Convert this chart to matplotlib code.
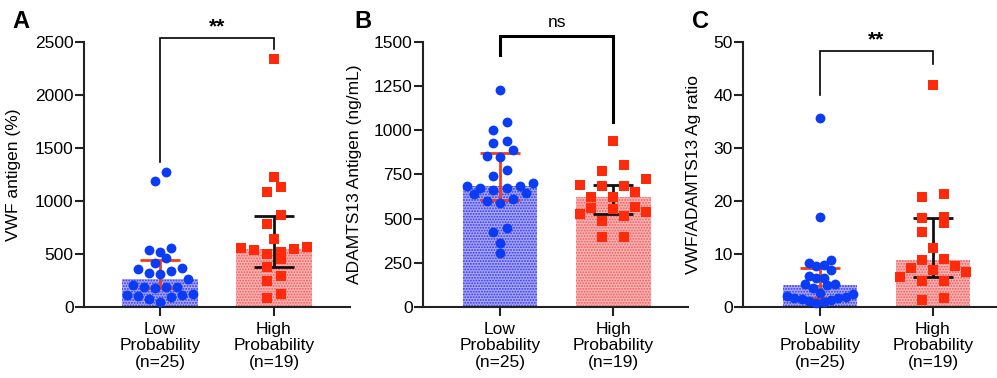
import numpy as np
import matplotlib
matplotlib.use('Agg')
import matplotlib.pyplot as plt

plt.rcParams['font.family'] = ['Liberation Sans', 'DejaVu Sans']
plt.rcParams['hatch.linewidth'] = 0.9

# ---------------- data ----------------
groups = ['Low\nProbability\n(n=25)', 'High\nProbability\n(n=19)']

vwf_low = [1269, 1190, 553, 537, 515, 465, 418, 355, 364, 339, 308, 317, 264,
           207, 176, 185, 191, 191, 97, 110, 116, 120, 105, 73, 50]
vwf_high = [2337, 1228, 1133, 1086, 867, 779, 638, 559, 499, 515, 537, 452,
            546, 568, 374, 292, 248, 120, 88]
vwf_median = [264, 546]
vwf_q1 = [182, 374]
vwf_q3 = [443, 862]

adamts_low = [1226, 1047, 1003, 937, 928, 886, 848, 852, 776, 739, 701, 673,
              686, 644, 663, 673, 687, 639, 591, 597, 612, 427, 446, 361, 304]
adamts_high = [942, 805, 767, 725, 688, 682, 686, 650, 625, 625, 559, 568,
               553, 512, 525, 540, 489, 395, 398]
adamts_median = [684, 622]
adamts_q1 = [604, 525]
adamts_q3 = [869, 688]

ratio_low = [35.6, 17.0, 8.8, 8.3, 8.0, 7.8, 6.9, 5.8, 5.4, 5.4, 4.3, 4.3, 4.1,
             3.6, 2.7, 2.4, 2.0, 1.9, 1.7, 1.6, 1.5, 1.3, 1.2, 1.0, 0.8]
ratio_high = [41.8, 21.4, 20.8, 17.0, 16.8, 15.9, 14.2, 11.1, 9.1, 8.8, 7.8,
              7.3, 6.9, 6.5, 5.6, 4.8, 4.8, 1.3, 1.6]
ratio_median = [4.2, 8.9]
ratio_q1 = [1.7, 5.6]
ratio_q3 = [7.4, 16.7]

# ---------------- style ----------------
BLUE = '#0a3cf5'
RED = '#ff2a0a'
ERR_LOW = '#f23c1a'
ERR_HIGH = '#111111'

fig = plt.figure(figsize=(9.97, 3.78), dpi=100)

panels = [
    dict(letter='A', low=vwf_low, high=vwf_high, med=vwf_median, q1=vwf_q1, q3=vwf_q3,
         ylabel='VWF antigen (%)', ylim=2500, ticks=np.arange(0, 2501, 500),
         rect=[84/997, 0.188, 266/997, 0.701], xlim=(-0.667, 1.667),
         sig='**', sig_y=2640, br=(2540, 1369, 2437), br_lw=1.2, ylab_x=-0.235,
         letter_x=12),
    dict(letter='B', low=adamts_low, high=adamts_high, med=adamts_median, q1=adamts_q1,
         q3=adamts_q3, ylabel='ADAMTS13 Antigen (ng/mL)', ylim=1500,
         ticks=np.arange(0, 1501, 250),
         rect=[423/997, 0.188, 265/997, 0.701], xlim=(-0.68, 1.66),
         sig='ns', sig_y=1610, br=(1532, 1428, 1045), br_lw=2.2, ylab_x=-0.23,
         letter_x=354),
    dict(letter='C', low=ratio_low, high=ratio_high, med=ratio_median, q1=ratio_q1,
         q3=ratio_q3, ylabel='VWF/ADAMTS13 Ag ratio', ylim=50,
         ticks=np.arange(0, 51, 10),
         rect=[743/997, 0.188, 254/997, 0.701], xlim=(-0.68, 1.566),
         sig='**', sig_y=50.3, br=(48.2, 39.9, 45.9), br_lw=1.2, ylab_x=-0.165,
         letter_x=692),
]


def swarm_x(ax, values, center, row_px=10.0, half_px=33.0, max_step=22.0):
    """Prism-like scatter: points binned into rows, each row spread symmetrically;
    spacing chosen so the widest row spans the bar width."""
    trans = ax.transData
    vals = np.asarray(values, dtype=float)
    pts = trans.transform(np.column_stack([np.full(len(vals), center), vals]))
    ys = pts[:, 1]
    cx = pts[0, 0]
    order = list(np.argsort(ys))
    rows = []
    cur = [order[0]]
    for i in order[1:]:
        if ys[i] - ys[cur[0]] < row_px:
            cur.append(i)
        else:
            rows.append(cur)
            cur = [i]
    rows.append(cur)
    maxn = max(len(r) for r in rows)
    step = min(max_step, half_px / ((maxn - 1) / 2.0)) if maxn > 1 else 0.0
    xs = np.zeros(len(vals))
    for r in rows:
        n = len(r)
        offs = np.arange(n) - (n - 1) / 2.0
        offs = sorted(offs, key=lambda o: (abs(o), o))
        for idx, o in zip(r, offs):
            xs[idx] = cx + o * step
    inv = trans.inverted()
    return inv.transform(np.column_stack([xs, ys]))[:, 0]


for p in panels:
    ax = fig.add_axes(p['rect'])
    ax.set_xlim(*p['xlim'])
    ax.set_ylim(0, p['ylim'])
    xpos = [0, 1]
    # bars (median)
    ax.bar(0, p['med'][0], width=0.66, facecolor='#a8a8f6', edgecolor='#3434ee',
           hatch='......', linewidth=0, zorder=1)
    ax.bar(1, p['med'][1], width=0.66, facecolor='#fab4b4', edgecolor='#f05a5a',
           hatch='......', linewidth=0, zorder=1)
    # error bars (IQR)
    for i, col in enumerate([ERR_LOW, ERR_HIGH]):
        ax.errorbar(xpos[i], p['med'][i],
                    yerr=[[p['med'][i] - p['q1'][i]], [p['q3'][i] - p['med'][i]]],
                    fmt='none', ecolor=col, elinewidth=2.0, capsize=14.5,
                    capthick=2.0, zorder=2)
    # points
    xl = swarm_x(ax, p['low'], 0)
    xh = swarm_x(ax, p['high'], 1)
    ax.scatter(xl, p['low'], s=50, marker='o', color=BLUE, linewidths=0,
               zorder=3, clip_on=False)
    ax.scatter(xh, p['high'], s=46, marker='s', color=RED, linewidths=0,
               zorder=3, clip_on=False)
    # spines / ticks
    for s in ['top', 'right']:
        ax.spines[s].set_visible(False)
    for s in ['left', 'bottom']:
        ax.spines[s].set_linewidth(1.5)
        ax.spines[s].set_color('#222222')
    ax.set_yticks(p['ticks'])
    ax.set_xticks(xpos)
    ax.set_xticklabels(groups, linespacing=1.15)
    ax.tick_params(axis='both', direction='out', length=6.5, width=1.5,
                   labelsize=12.5, color='#222222', pad=1.0)
    ax.tick_params(axis='x', pad=4)
    ax.set_ylabel(p['ylabel'], fontsize=12.5)
    ax.yaxis.set_label_coords(p['ylab_x'], 0.5)
    # significance bracket
    top, left_end, right_end = p['br']
    ax.plot([0, 0, 1, 1], [left_end, top, top, right_end], color='black',
            lw=p['br_lw'], clip_on=False, zorder=4, solid_joinstyle='miter')
    if p['sig'] == '**':
        ax.text(0.5, p['sig_y'], '**', ha='center', va='center', fontsize=15,
                fontweight='bold', clip_on=False)
    else:
        ax.text(0.5, p['sig_y'], 'ns', ha='center', va='center', fontsize=12.5,
                clip_on=False)
    fig.text(p['letter_x'] / 997, 1 - 22 / 378, p['letter'], fontsize=17,
             fontweight='bold', ha='left', va='center')

fig.savefig('out.png', dpi=100)
